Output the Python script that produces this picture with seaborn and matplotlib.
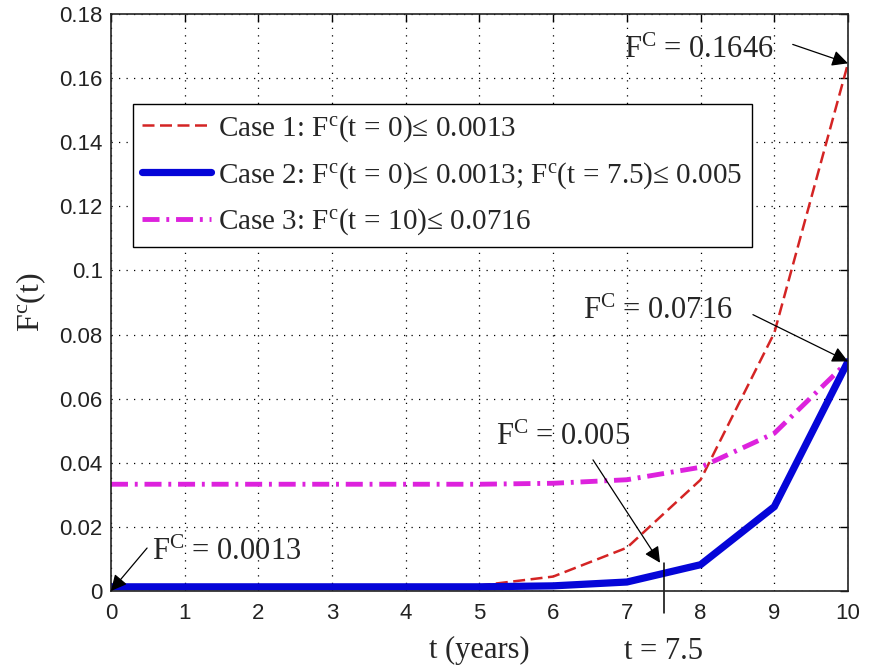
import matplotlib
matplotlib.use("Agg")
import matplotlib.pyplot as plt
import seaborn as sns
import pandas as pd
import numpy as np

# ---------------- data ----------------
t = [0, 1, 2, 3, 4, 5, 6, 7, 8, 9, 10]
case1 = [0.0013, 0.0013, 0.0013, 0.0013, 0.0013, 0.0017, 0.0045, 0.0135, 0.0347, 0.0805, 0.1646]
case2 = [0.0013, 0.0013, 0.0013, 0.0013, 0.0013, 0.0013, 0.0016, 0.0028, 0.0082, 0.0263, 0.0716]
case3 = [0.0333, 0.0333, 0.0333, 0.0333, 0.0333, 0.0333, 0.0336, 0.0347, 0.0386, 0.0492, 0.0716]

labels = [
    r"Case 1: F$^{\mathrm{c}}$(t$\,=\,$0)≤ 0.0013",
    r"Case 2: F$^{\mathrm{c}}$(t$\,=\,$0)≤ 0.0013; F$^{\mathrm{c}}$(t$\,=\,$7.5)≤ 0.005",
    r"Case 3: F$^{\mathrm{c}}$(t$\,=\,$10)≤ 0.0716",
]
xticks = [0, 1, 2, 3, 4, 5, 6, 7, 8, 9, 10]
yticks = [0, 0.02, 0.04, 0.06, 0.08, 0.1, 0.12, 0.14, 0.16, 0.18]
ytick_labels = ["0", "0.02", "0.04", "0.06", "0.08", "0.1", "0.12", "0.14", "0.16", "0.18"]
ann_values = ["0.1646", "0.0716", "0.005", "0.0013"]

# ---------------- style ----------------
sns.set_theme(style="white")
plt.rcParams["font.family"] = ["Liberation Serif", "DejaVu Serif"]
plt.rcParams["mathtext.fontset"] = "custom"
plt.rcParams["mathtext.rm"] = "Liberation Serif"
plt.rcParams["mathtext.it"] = "Liberation Serif:italic"
plt.rcParams["mathtext.bf"] = "Liberation Serif:bold"

fig = plt.figure(figsize=(8.71, 6.65), dpi=100)
ax = fig.add_axes([0.1274, 0.1113, 0.8462, 0.8677])

df = pd.DataFrame({"t": t, "c1": case1, "c2": case2, "c3": case3})

sns.lineplot(data=df, x="t", y="c1", ax=ax, color="#d42424", lw=1.8,
             linestyle=(0, (4.8, 2.2)), label=labels[0])
sns.lineplot(data=df, x="t", y="c3", ax=ax, color="#dd22dd", lw=3.5,
             linestyle=(0, (3.5, 1.4, 0.6, 1.4)), label=labels[2])
sns.lineplot(data=df, x="t", y="c2", ax=ax, color="#0505d8", lw=5.2,
             label=labels[1], solid_joinstyle="miter")

ax.set_xlim(0, 10)
ax.set_ylim(0, 0.18)
ax.set_xticks(xticks)
ax.set_xticklabels([str(v) for v in xticks], family="Liberation Sans", fontsize=16)
ax.set_yticks(yticks)
ax.set_yticklabels(ytick_labels, family="Liberation Sans", fontsize=16)
ax.tick_params(direction="in", top=True, right=True, length=6, width=1,
               colors="black", labelcolor="#222222")
ax.tick_params(axis="x", pad=9)
ax.tick_params(axis="y", pad=6)

ax.grid(True, color="black", linestyle=(0, (1, 5)), linewidth=0.9)
for s in ax.spines.values():
    s.set_color("#222222")
    s.set_linewidth(1.2)

ax.set_xlabel("t (years)", fontsize=22, labelpad=8)
ax.set_ylabel(r"F$^{\mathrm{c}}$(t)", fontsize=23, labelpad=8)

# legend in Case order
h, l = ax.get_legend_handles_labels()
order = [l.index(x) for x in labels]
leg = ax.legend([h[i] for i in order], [l[i] for i in order],
                loc="upper left", bbox_to_anchor=(0.030, 0.844),
                borderaxespad=0, fancybox=False, frameon=True,
                edgecolor="black", fontsize=21, handlelength=2.35,
                handletextpad=0.25, labelspacing=0.55, borderpad=0.32)
leg.get_frame().set_linewidth(1.0)
leg.get_frame().set_alpha(1)

# ---------------- annotations ----------------
arrow = dict(arrowstyle="-|>", color="black", lw=0.9, mutation_scale=24,
             shrinkA=0, shrinkB=0)

def fc(v):
    return r"F$^{\mathrm{C}}$ = " + v

ax.text(7.98, 0.1685, fc(ann_values[0]), fontsize=22, ha="center", va="center")
ax.annotate("", xy=(t[-1], case1[-1]), xytext=(9.25, 0.1705), arrowprops=arrow,
            annotation_clip=False)

ax.text(7.42, 0.0872, fc(ann_values[1]), fontsize=22, ha="center", va="center")
ax.annotate("", xy=(t[-1], case3[-1]), xytext=(8.71, 0.0862), arrowprops=arrow,
            annotation_clip=False)

ax.text(6.13, 0.0480, fc(ann_values[2]), fontsize=22, ha="center", va="center")
ax.annotate("", xy=(7.45, 0.0088), xytext=(6.54, 0.0409), arrowprops=arrow,
            annotation_clip=False)

ax.text(1.57, 0.0121, fc(ann_values[3]), fontsize=22, ha="center", va="center")
ax.annotate("", xy=(t[0], 0.0), xytext=(0.49, 0.0134), arrowprops=arrow,
            annotation_clip=False)

# t = 7.5 marker line and label
ax.plot([7.5, 7.5], [0.0088, -0.0068], color="black", lw=1.1, clip_on=False)
ax.text(7.5, -0.0190, "t = 7.5", fontsize=22, ha="center", va="center")

fig.savefig("out.png", dpi=100, facecolor="white")
